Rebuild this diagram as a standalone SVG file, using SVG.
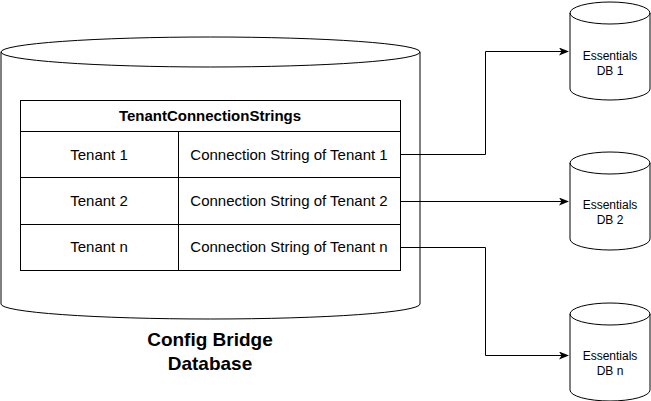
<svg xmlns="http://www.w3.org/2000/svg" width="651" height="401" viewBox="0 0 651 401">
<style>
.s{fill:#fff;stroke:#000;stroke-width:1}
.t{font-family:"Liberation Sans",Arial,sans-serif;font-size:15px;fill:#000;text-anchor:middle}
.sm{font-family:"Liberation Sans",Arial,sans-serif;font-size:12px;fill:#000;text-anchor:middle}
.c{fill:none;stroke:#000;stroke-width:1}
</style>
<defs><marker id="a" markerWidth="10" markerHeight="8" refX="9" refY="4" orient="auto" markerUnits="userSpaceOnUse"><path d="M0,0 L10,4 L0,8 L2.5,4 Z" fill="#000"/></marker></defs>
<g id="configdb">
<path class="s" d="M1,52 A209.5,15 0 0 1 420,52 L420,304 A209.5,15 0 0 1 1,304 Z"/>
<path class="c" d="M1,52 A209.5,15 0 0 0 420,52"/>
<text class="t" x="210" y="346" style="font-weight:bold;font-size:19px">Config Bridge</text>
<text class="t" x="210" y="370" style="font-weight:bold;font-size:19px">Database</text>
</g>
<g id="table">
<rect class="s" x="20.5" y="100.5" width="380" height="170"/>
<line class="c" x1="20.5" y1="131.5" x2="400.5" y2="131.5"/>
<line class="c" x1="20.5" y1="177.5" x2="400.5" y2="177.5"/>
<line class="c" x1="20.5" y1="224.5" x2="400.5" y2="224.5"/>
<line class="c" x1="178.5" y1="131.5" x2="178.5" y2="270.5"/>
<text class="t" x="210" y="121" style="font-weight:bold">TenantConnectionStrings</text>
<text class="t" x="99" y="160">Tenant 1</text>
<text class="t" x="289" y="160">Connection String of Tenant 1</text>
<text class="t" x="99" y="206">Tenant 2</text>
<text class="t" x="289" y="206">Connection String of Tenant 2</text>
<text class="t" x="99" y="252">Tenant n</text>
<text class="t" x="289" y="252">Connection String of Tenant n</text>
</g>
<g id="db1">
<path class="s" d="M570,13 A40,11 0 0 1 650,13 L650,89 A40,11 0 0 1 570,89 Z"/>
<path class="c" d="M570,13 A40,11 0 0 0 650,13"/>
<text class="sm" x="610" y="60">Essentials</text><text class="sm" x="610" y="75">DB 1</text>
</g>
<g id="db2">
<path class="s" d="M570,163 A40,11 0 0 1 650,163 L650,239 A40,11 0 0 1 570,239 Z"/>
<path class="c" d="M570,163 A40,11 0 0 0 650,163"/>
<text class="sm" x="610" y="209">Essentials</text><text class="sm" x="610" y="224">DB 2</text>
</g>
<g id="dbn">
<path class="s" d="M570,314 A40,11 0 0 1 650,314 L650,390 A40,11 0 0 1 570,390 Z"/>
<path class="c" d="M570,314 A40,11 0 0 0 650,314"/>
<text class="sm" x="610" y="360">Essentials</text><text class="sm" x="610" y="375">DB n</text>
</g>
<g id="connectors">
<path class="c" d="M400.5,154.5 H485.5 V51.5 H568" marker-end="url(#a)"/>
<path class="c" d="M400.5,201.5 H568" marker-end="url(#a)"/>
<path class="c" d="M400.5,247.5 H485.5 V355.5 H568" marker-end="url(#a)"/>
</g>
</svg>
